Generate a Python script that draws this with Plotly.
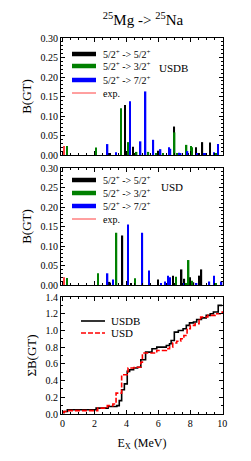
import plotly.graph_objects as go
from plotly.subplots import make_subplots

# ---------------- data ----------------
# USDB panel: B(GT) per transition type
usdb_55_x = [2.95, 3.9, 4.41, 6.02, 7.0, 7.85, 8.35, 8.55, 8.76, 9.24]
usdb_55_y = [0.004, 0.128, 0.021, 0.011, 0.073, 0.005, 0.020, 0.005, 0.033, 0.032]
usdb_53_x = [0.29, 2.1, 3.65, 4.12, 4.64, 5.38, 5.85, 6.3, 7.02, 7.2, 7.77, 8.04, 8.12, 8.85, 9.6]
usdb_53_y = [0.023, 0.019, 0.120, 0.033, 0.008, 0.008, 0.004, 0.004, 0.058, 0.005, 0.026, 0.023, 0.020, 0.004, 0.004]
usdb_57_x = [2.82, 3.36, 4.23, 4.89, 5.2, 5.69, 6.14, 6.66, 6.76, 7.3, 7.4, 7.83, 8.45, 8.87, 9.0, 9.47, 9.75]
usdb_57_y = [0.028, 0.007, 0.138, 0.035, 0.163, 0.039, 0.015, 0.020, 0.016, 0.006, 0.005, 0.010, 0.004, 0.004, 0.004, 0.007, 0.028]
exp_x = [0.1]
usdb_exp_y = [0.023]

# USD panel
usd_55_x = [2.95, 3.75, 4.3, 5.98, 6.93, 7.46, 7.63, 7.98, 8.2, 8.58, 8.7]
usd_55_y = [0.008, 0.127, 0.005, 0.014, 0.024, 0.040, 0.016, 0.020, 0.007, 0.024, 0.040]
usd_53_x = [0.29, 2.23, 3.38, 4.52, 7.1, 7.75, 7.9, 8.1, 9.62]
usd_53_y = [0.018, 0.030, 0.134, 0.017, 0.021, 0.004, 0.064, 0.011, 0.004]
usd_57_x = [2.82, 3.15, 4.1, 5.0, 5.42, 6.15, 6.43, 6.6, 6.74, 7.55, 8.4, 9.2, 9.5, 9.96]
usd_57_y = [0.030, 0.014, 0.155, 0.134, 0.037, 0.004, 0.009, 0.024, 0.020, 0.004, 0.004, 0.009, 0.024, 0.009]
usd_exp_y = [0.020]

# cumulative sums
cum_usdb_x = [0.0, 0.1, 0.3, 2.1, 2.85, 3.4, 3.55, 3.7, 3.87, 4.05, 4.2, 4.45, 4.7, 4.9, 5.2, 5.6, 5.9, 6.5, 6.7, 6.8, 7.0, 7.25, 7.55, 7.75, 7.95, 8.2, 8.4, 8.7, 9.0, 9.25, 9.45, 9.75, 10.0]
cum_usdb_y = [0.02, 0.03, 0.05, 0.07, 0.09, 0.10, 0.16, 0.29, 0.36, 0.51, 0.53, 0.55, 0.56, 0.65, 0.74, 0.78, 0.80, 0.82, 0.84, 0.88, 0.98, 1.00, 1.02, 1.06, 1.09, 1.10, 1.13, 1.15, 1.18, 1.20, 1.22, 1.30, 1.30]
cum_usd_x = [0.0, 0.1, 0.3, 2.2, 2.8, 3.15, 3.35, 3.7, 4.1, 4.5, 4.9, 5.0, 5.9, 6.5, 6.7, 6.9, 7.15, 7.4, 7.6, 7.8, 8.0, 8.3, 8.55, 8.65, 9.1, 9.55, 10.0]
cum_usd_y = [0.02, 0.03, 0.04, 0.07, 0.10, 0.12, 0.25, 0.47, 0.55, 0.56, 0.62, 0.73, 0.76, 0.78, 0.80, 0.85, 0.87, 0.90, 0.94, 1.02, 1.06, 1.08, 1.12, 1.16, 1.18, 1.20, 1.23]

lbl55 = "5/2<sup>+</sup> -> 5/2<sup>+</sup>"
lbl53 = "5/2<sup>+</sup> -> 3/2<sup>+</sup>"
lbl57 = "5/2<sup>+</sup> -> 7/2<sup>+</sup>"

BLACK, GREEN, BLUE, RED = "#000000", "#008000", "#0000ff", "#ff4040"
FONT = "Liberation Serif"

# ---------------- geometry (pixels) ----------------
W, H = 251, 461
L, R, T, B = 61, 223, 38, 414          # plot region in pixels
def px2x(p): return (p - L) / (R - L)
def px2y(p): return (B - p) / (B - T)

fig = make_subplots(rows=3, cols=1)

BW = 0.09
def bars(x, y, color, row):
    fig.add_trace(go.Bar(x=x, y=y, width=BW, marker=dict(color=color, line=dict(width=0)),
                         showlegend=False, hoverinfo="skip"), row=row, col=1)

for row, sets in [
    (1, [(usdb_55_x, usdb_55_y, BLACK), (usdb_53_x, usdb_53_y, GREEN), (usdb_57_x, usdb_57_y, BLUE), (exp_x, usdb_exp_y, RED)]),
    (2, [(usd_55_x, usd_55_y, BLACK), (usd_53_x, usd_53_y, GREEN), (usd_57_x, usd_57_y, BLUE), (exp_x, usd_exp_y, RED)]),
]:
    for x, y, c in sets:
        bars(x, y, c, row)

fig.add_trace(go.Scatter(x=cum_usdb_x, y=cum_usdb_y, mode="lines", line=dict(color=BLACK, width=1.6, shape="hv"),
                         name="USDB", showlegend=False), row=3, col=1)
fig.add_trace(go.Scatter(x=cum_usd_x, y=cum_usd_y, mode="lines",
                         line=dict(color="#ff0000", width=1.6, shape="hv", dash="5px,2px"),
                         name="USD", showlegend=False), row=3, col=1)

# panel boxes in pixels
panels = [(38, 155), (168, 285), (297, 414)]
for i, (top, bot) in enumerate(panels):
    r = i + 1
    fig.update_xaxes(domain=[0, 1], range=[-0.1, 10.05], dtick=2, tick0=0, showticklabels=(r == 3),
                     ticks="inside", ticklen=4, tickwidth=1, tickcolor="black",
                     minor=dict(dtick=0.5, ticks="inside", ticklen=2, tickcolor="black"),
                     showline=True, linecolor="black", linewidth=1, mirror="allticks",
                     showgrid=False, zeroline=False, automargin=False, row=r, col=1)
    fig.update_yaxes(domain=[px2y(bot), px2y(top)], ticks="inside", ticklen=4, tickwidth=1, tickcolor="black",
                     showline=True, linecolor="black", linewidth=1, mirror="allticks",
                     showgrid=False, zeroline=False, automargin=False, row=r, col=1)
fig.update_xaxes(title=dict(text="E<sub>X</sub> (MeV)", standoff=10, font=dict(size=12)), row=3, col=1)

for r in (1, 2):
    fig.update_yaxes(range=[0, 0.30], dtick=0.05, tickformat=".2f",
                     minor=dict(nticks=5, ticks="inside", ticklen=2, tickcolor="black"),
                     title=dict(text="B(GT)", standoff=5, font=dict(size=13)), row=r, col=1)
fig.update_yaxes(range=[0, 1.4], dtick=0.2, tickformat=".1f",
                 minor=dict(nticks=2, ticks="inside", ticklen=2, tickcolor="black"),
                 title=dict(text="ΣB(GT)", standoff=5, font=dict(size=13)), row=3, col=1)

# ---------------- hand-drawn legends ----------------
def legend_item(x0, x1, y, text, color, width, tx, size=10, dash="solid"):
    fig.add_shape(type="line", xref="paper", yref="paper", x0=px2x(x0), x1=px2x(x1), y0=px2y(y), y1=px2y(y),
                  line=dict(color=color, width=width, dash=dash))
    fig.add_annotation(text=text, xref="paper", yref="paper", x=px2x(tx), y=px2y(y), xanchor="left",
                       yanchor="middle", showarrow=False, font=dict(size=size, family=FONT, color="black"))

for ys, sx0, sx1, tx in [((54, 66, 80, 93), 72, 96, 101), ((180, 193, 206, 219), 72, 96, 101)]:
    legend_item(sx0, sx1, ys[0], lbl55, BLACK, 4.5, tx)
    legend_item(sx0, sx1, ys[1], lbl53, GREEN, 4.5, tx)
    legend_item(sx0, sx1, ys[2], lbl57, BLUE, 4.5, tx)
    legend_item(sx0, sx1, ys[3], "exp.", RED, 1, tx)

legend_item(81, 105, 321, "USDB", BLACK, 1.6, 109, size=11)
legend_item(81, 105, 333, "USD", "#ff0000", 1.6, 109, size=11, dash="5px,2px")

fig.add_annotation(text="USDB", x=px2x(190), y=px2y(60), xref="paper", yref="paper", showarrow=False,
                   font=dict(size=11, family=FONT, color="black"))
fig.add_annotation(text="USD", x=px2x(185), y=px2y(187), xref="paper", yref="paper", showarrow=False,
                   font=dict(size=11, family=FONT, color="black"))

fig.update_layout(
    width=W, height=H, margin=dict(l=L, r=W - R, t=T, b=H - B),
    paper_bgcolor="white", plot_bgcolor="white", barmode="overlay", showlegend=False,
    font=dict(family=FONT, size=10, color="black"),
    title=dict(text="<sup>25</sup>Mg -> <sup>25</sup>Na", x=143 / W, xref="container", xanchor="center",
               y=1 - 20 / H, yref="container", yanchor="middle",
               font=dict(size=15, family=FONT, color="black")),
)

fig.write_html("out.html", config={"displayModeBar": False},
               post_script="document.body.style.margin='0px';")
